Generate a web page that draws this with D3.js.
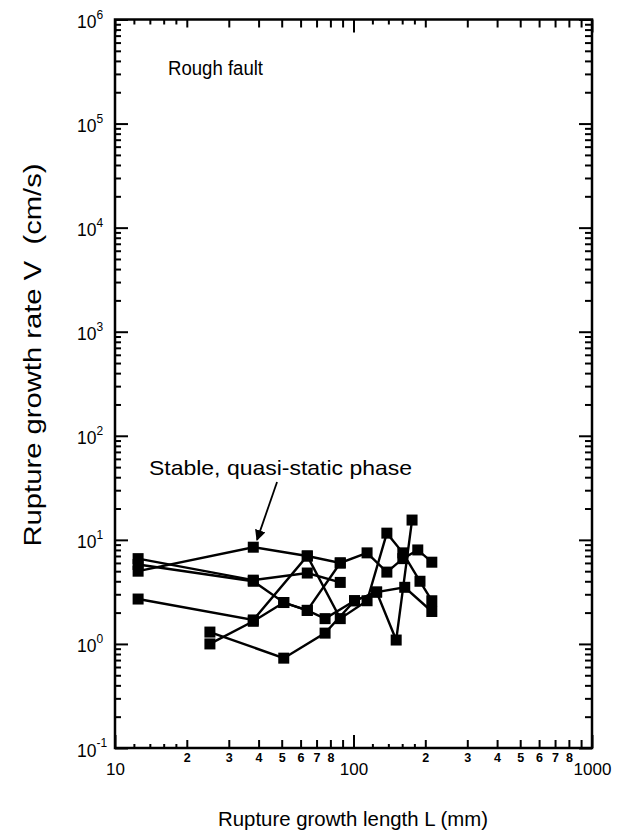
<!DOCTYPE html>
<html>
<head>
<meta charset="utf-8">
<script src="https://cdn.jsdelivr.net/npm/d3@7"></script>
<style>
  body { margin: 0; background: #fff; }
  svg { font-family: "Liberation Sans", Arial, sans-serif; }
</style>
</head>
<body>
<svg width="625" height="831"></svg>
<script>
// each run: [rupture length L (mm), growth rate V (cm/s)]
const runA = [[12.5, 5.0], [38, 8.5], [64, 7.0], [88, 6.0], [114, 7.5], [138, 4.9], [161, 6.6], [186, 8.0], [213, 6.1]];
const runB = [[12.5, 6.6], [38, 4.1], [64, 4.8], [88, 3.9]];
const runC = [[12.5, 5.8], [38, 4.0], [51, 2.5], [64, 2.1], [76, 1.75], [101, 2.6], [125, 3.15], [151, 1.09], [176, 15.5]];
const runD = [[12.5, 2.7], [38, 1.7], [64, 7.0], [88, 1.75], [114, 2.6], [138, 11.6], [161, 7.5], [190, 4.0], [213, 2.6]];
const runE = [[25, 1.0], [38, 1.65], [51, 2.5], [64, 2.1], [88, 6.0]];
const runF = [[25, 1.3], [51, 0.73], [76, 1.27], [101, 2.6], [125, 3.15], [164, 3.5], [213, 2.05]];
const runs = [runA, runB, runC, runD, runE, runF];

const xMajor = [10, 100, 1000];
const xMinor = [20, 30, 40, 50, 60, 70, 80, 90, 200, 300, 400, 500, 600, 700, 800, 900];
const xFine = [12, 14, 16, 18, 120, 140, 160, 180];
const yExponents = [-1, 0, 1, 2, 3, 4, 5, 6];

function getScales() {
  let x = d3.scaleLog().domain([10, 1000]).range([115, 592]);
  let y = d3.scaleLog().domain([0.1, 1e6]).range([748, 19.5]);
  return [x, y];
}

function yMinorValues() {
  let vals = [];
  yExponents.slice(0, -1).forEach((e) => {
    for (let m = 2; m <= 9; m++) vals.push(m * Math.pow(10, e));
  });
  return vals;
}

function styleTicks(g, width) {
  g.select(".domain").remove();
  g.selectAll("line").attr("stroke", "#000").attr("stroke-width", width);
  g.selectAll("text").attr("fill", "#000");
}

function createPlot() {
  let svg = d3.select("svg");
  let [x, y] = getScales();
  const yMajor = yExponents.map((e) => Math.pow(10, e));

  // bottom axis: minor ticks with leading digit labels
  svg.append("g")
    .attr("transform", "translate(0,748)")
    .call(d3.axisBottom(x).tickValues(xMinor).tickSizeInner(-8).tickSizeOuter(0).tickPadding(5)
      .tickFormat((d) => {
        let digit = Math.round(d / Math.pow(10, Math.floor(Math.log10(d) + 1e-9)));
        return digit === 9 ? "" : digit;
      }))
    .call((g) => styleTicks(g, 2))
    .selectAll("text").style("font-size", "12.5px").style("font-weight", "bold");

  svg.append("g")
    .attr("transform", "translate(0,748)")
    .call(d3.axisBottom(x).tickValues(xFine).tickSizeInner(-4).tickSizeOuter(0).tickFormat(""))
    .call((g) => styleTicks(g, 2));

  svg.append("g")
    .attr("transform", "translate(0,748)")
    .call(d3.axisBottom(x).tickValues(xMajor).tickSizeInner(-13).tickSizeOuter(0).tickPadding(15)
      .tickFormat(d3.format("d")))
    .call((g) => styleTicks(g, 2))
    .selectAll("text").style("font-size", "17px");

  // top axis
  svg.append("g")
    .attr("transform", "translate(0,19.5)")
    .call(d3.axisTop(x).tickValues(xMinor).tickSizeInner(-8).tickSizeOuter(0).tickFormat(""))
    .call((g) => styleTicks(g, 2));
  svg.append("g")
    .attr("transform", "translate(0,19.5)")
    .call(d3.axisTop(x).tickValues(xFine).tickSizeInner(-5).tickSizeOuter(0).tickFormat(""))
    .call((g) => styleTicks(g, 2));
  svg.append("g")
    .attr("transform", "translate(0,19.5)")
    .call(d3.axisTop(x).tickValues(xMajor).tickSizeInner(-13).tickSizeOuter(0).tickFormat(""))
    .call((g) => styleTicks(g, 2));

  // left axis
  svg.append("g")
    .attr("transform", "translate(115,0)")
    .call(d3.axisLeft(y).tickValues(yMinorValues()).tickSizeInner(-6).tickSizeOuter(0).tickFormat(""))
    .call((g) => styleTicks(g, 2));

  let left = svg.append("g")
    .attr("transform", "translate(115,0)")
    .call(d3.axisLeft(y).tickValues(yMajor).tickSizeInner(-13).tickSizeOuter(0).tickFormat(""))
    .call((g) => styleTicks(g, 2));

  let lbl = left.selectAll(".tick").append("text")
    .attr("x", -38)
    .attr("y", 8)
    .attr("text-anchor", "start")
    .style("font-size", "17.5px")
    .attr("fill", "#000");
  lbl.append("tspan").text("10");
  lbl.append("tspan")
    .attr("dy", -9.5)
    .style("font-size", "12px")
    .text((d) => Math.round(Math.log10(d)));

  // right axis
  svg.append("g")
    .attr("transform", "translate(592,0)")
    .call(d3.axisRight(y).tickValues(yMinorValues()).tickSizeInner(-7).tickSizeOuter(0).tickFormat(""))
    .call((g) => styleTicks(g, 2));
  svg.append("g")
    .attr("transform", "translate(592,0)")
    .call(d3.axisRight(y).tickValues(yMajor).tickSizeInner(-13).tickSizeOuter(0).tickFormat(""))
    .call((g) => styleTicks(g, 2));

  // frame
  svg.append("rect")
    .attr("x", x(10)).attr("y", y(1e6))
    .attr("width", x(1000) - x(10)).attr("height", y(0.1) - y(1e6))
    .attr("fill", "none").attr("stroke", "#000").attr("stroke-width", 2.5);

  // axis titles
  svg.append("text")
    .attr("x", 353).attr("y", 826)
    .attr("text-anchor", "middle")
    .style("font-size", "21px")
    .attr("textLength", 270)
    .attr("lengthAdjust", "spacingAndGlyphs")
    .text("Rupture growth length L (mm)");

  svg.append("text")
    .attr("transform", "translate(41,355) rotate(-90)")
    .attr("text-anchor", "middle")
    .style("font-size", "23px")
    .attr("textLength", 383)
    .attr("lengthAdjust", "spacingAndGlyphs")
    .text("Rupture growth rate V\u00a0 (cm/s)");
}

function drawRuns() {
  let svg = d3.select("svg");
  let [x, y] = getScales();

  let line = d3.line()
    .x((d) => x(d[0]))
    .y((d) => y(d[1]));

  svg.append("g").selectAll("path")
    .data(runs)
    .enter()
    .append("path")
    .attr("d", line)
    .attr("fill", "none")
    .attr("stroke", "#000")
    .attr("stroke-width", 2.4);

  svg.append("g").selectAll("rect")
    .data(runs.flat())
    .enter()
    .append("rect")
    .attr("x", (d) => x(d[0]) - 5.5)
    .attr("y", (d) => y(d[1]) - 5.5)
    .attr("width", 11)
    .attr("height", 11)
    .attr("fill", "#000");
}

function drawNotes() {
  let svg = d3.select("svg");
  let [x, y] = getScales();

  svg.append("text")
    .attr("x", 168).attr("y", 75)
    .style("font-size", "20px")
    .attr("textLength", 95)
    .attr("lengthAdjust", "spacingAndGlyphs")
    .text("Rough fault");

  svg.append("text")
    .attr("x", 149).attr("y", 475)
    .style("font-size", "21px")
    .attr("textLength", 263)
    .attr("lengthAdjust", "spacingAndGlyphs")
    .text("Stable, quasi-static phase");

  // arrow pointing at the first quasi-static point
  let defs = svg.append("defs");
  defs.append("marker")
    .attr("id", "head")
    .attr("viewBox", "0 0 10 10")
    .attr("refX", 9).attr("refY", 5)
    .attr("markerWidth", 6).attr("markerHeight", 6)
    .attr("markerUnits", "strokeWidth")
    .attr("orient", "auto")
    .append("path")
    .attr("d", "M0,0 L10,5 L0,10 z")
    .attr("fill", "#000");

  svg.append("line")
    .attr("x1", x(47.8)).attr("y1", y(36))
    .attr("x2", x(39.4)).attr("y2", y(10))
    .attr("stroke", "#000")
    .attr("stroke-width", 1.8)
    .attr("marker-end", "url(#head)");
}

createPlot();
drawRuns();
drawNotes();
</script>
</body>
</html>
